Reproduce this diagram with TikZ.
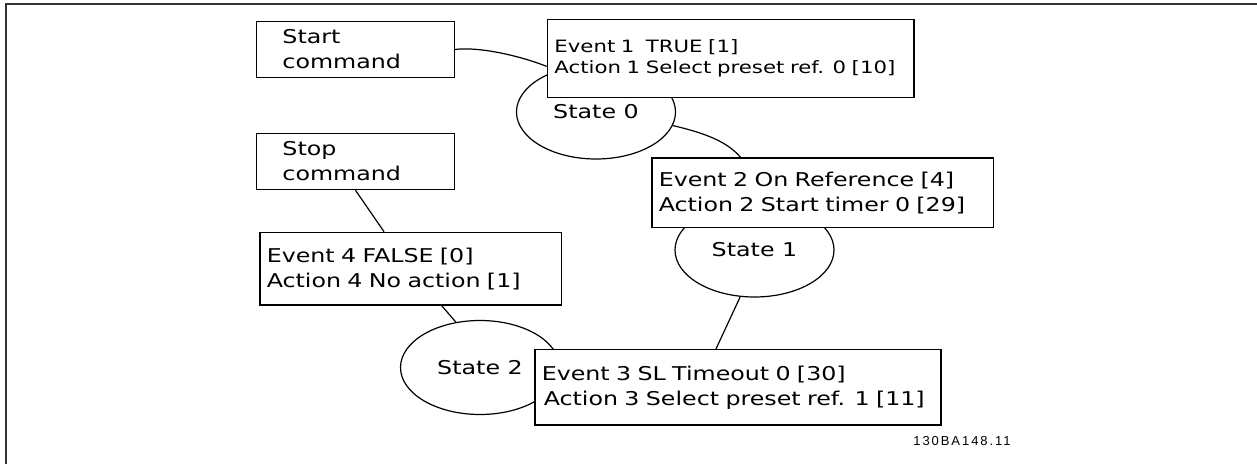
\documentclass[tikz,border=0pt]{standalone}
\usepackage{fontspec}
\setmainfont{DejaVu Sans}[FakeStretch=1.25]
\newfontfamily\codefont{Liberation Sans}[LetterSpace=15]
\usetikzlibrary{shapes.geometric}

\tikzset{
  cmdbox/.style={draw, fill=white, line width=0.75pt, anchor=north west, align=left,
    inner xsep=13pt, inner ysep=0pt, text width=73pt, minimum height=28pt},
  evbox/.style 2 args={draw, fill=white, line width=0.75pt, anchor=north west, align=left,
    inner xsep=3.5pt, inner ysep=0pt, text width=#1, minimum height=#2},
  state/.style={ellipse, draw, fill=white, line width=0.6pt, inner sep=0pt,
    minimum width=79.5pt, minimum height=47pt},
  link/.style={line width=0.6pt}
}

\begin{document}
\begin{tikzpicture}[x=0.5pt, y=-0.5pt, font=\fontsize{9.5}{12.5}\selectfont]
    \useasboundingbox (0,0) rectangle (1257,464);
    \draw[line width=1pt, black!80] (6,4.3) rectangle (1300,520);

    % states
    \node[state] (s0) at (596,112) {State 0};
    \node[state] (s1) at (754.5,250) {State 1};
    \node[state] (s2) at (480,367.5) {State 2};

    % commands and events
    \node[cmdbox] (start) at (255.7,20.7) {Start\\command};
    \node[cmdbox] (stop) at (255.7,132.7) {Stop\\command};
    \node[evbox={176.15pt}{38.85pt}, font=\fontsize{8.5}{10.5}\selectfont] (ev1) at (546.7,19)
        {Event 1\ \ TRUE [1]\\Action 1 Select preset ref. 0 [10]};
    \node[evbox={163.75pt}{34.7pt}] (ev2) at (651,157.3)
        {Event 2 On Reference [4]\\Action 2 Start timer 0 [29]};
    \node[evbox={143.85pt}{36.3pt}] (ev4) at (259,231.7)
        {Event 4 FALSE [0]\\Action 4 No action [1]};
    \node[evbox={196.2pt}{37.65pt}] (ev3) at (534,349)
        {Event 3 SL Timeout 0 [30]\\\hspace{1pt}Action 3 Select preset ref. 1 [11]};

    % links
    \draw[link] (start.east) .. controls +(25,-3) and +(-25,-10) .. ([yshift=-3.9pt]ev1.west);
    \draw[link] (s0.-10) .. controls +(25,6) and +(-15,-18) .. ([xshift=-41pt]ev2.north);
    \draw[link] (s1.-107) -- ([xshift=-11pt]ev3.north);
    \draw[link] (stop.south) -- ([xshift=-13.3pt]ev4.north);
    \draw[link] ([xshift=15.6pt]ev4.south) -- (s2.118);

    \node[font=\codefont\fontsize{6.5}{8}\selectfont] (code) at (962,441) {130BA148.11};
\end{tikzpicture}
\end{document}
